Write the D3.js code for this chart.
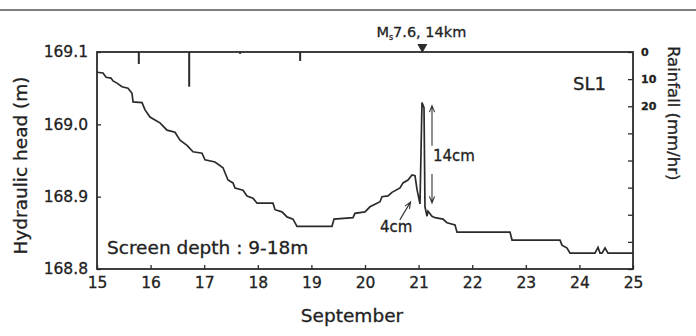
<!DOCTYPE html>
<html>
<head>
<meta charset="utf-8">
<script src="https://cdn.jsdelivr.net/npm/d3@7/dist/d3.min.js"></script>
<style>
  html, body { margin: 0; padding: 0; background: #fff; }
  svg { display: block; }
  text { font-family: "DejaVu Sans", "Liberation Sans", Arial, sans-serif; fill: #222;
         stroke: #222; stroke-width: 0.3px; }
</style>
</head>
<body>
<script>
// Hydraulic head record at well SL1, 15–25 September (day of month, metres)
const headTime = [
  15.000, 15.112, 15.168, 15.261, 15.299, 15.373, 15.466, 15.578, 15.653, 15.672,
  15.840, 15.896, 15.989, 16.082, 16.175, 16.306, 16.455, 16.549, 16.679, 16.791,
  16.959, 17.015, 17.201, 17.351, 17.388, 17.444, 17.537, 17.575, 17.724, 17.799,
  17.910, 17.985, 18.284, 18.321, 18.451, 18.545, 18.657, 18.731, 19.384, 19.422,
  19.776, 19.813, 20.000, 20.093, 20.224, 20.280, 20.317, 20.429, 20.504, 20.653,
  20.709, 20.802, 20.877, 20.933, 20.970, 21.026, 21.063, 21.101, 21.119, 21.157,
  21.175, 21.250, 21.306, 21.455, 21.530, 21.679, 21.716, 22.705, 22.743, 23.638,
  23.675, 23.769, 23.825, 24.291, 24.347, 24.384, 24.422, 24.478, 24.534, 25.000
];
const headValue = [
  169.072, 169.071, 169.065, 169.064, 169.060, 169.057, 169.052, 169.050, 169.043, 169.031,
  169.030, 169.020, 169.010, 169.006, 169.002, 168.992, 168.989, 168.978, 168.971, 168.962,
  168.960, 168.951, 168.948, 168.940, 168.933, 168.923, 168.919, 168.912, 168.909, 168.901,
  168.898, 168.891, 168.891, 168.882, 168.879, 168.872, 168.869, 168.859, 168.859, 168.869,
  168.871, 168.877, 168.879, 168.886, 168.891, 168.893, 168.900, 168.901, 168.906, 168.912,
  168.919, 168.923, 168.930, 168.929, 168.910, 168.890, 169.030, 169.023, 168.886, 168.873,
  168.880, 168.873, 168.871, 168.869, 168.864, 168.861, 168.851, 168.851, 168.840, 168.840,
  168.833, 168.829, 168.822, 168.822, 168.830, 168.822, 168.822, 168.829, 168.822, 168.822
];

// Hourly rainfall (mm/hr)
const rainTime = [15.78, 16.72, 17.67, 18.79];
const rainValue = [4.4, 12.8, 0.7, 3.3];

// Axis ticks
const dayTicks = [15, 16, 17, 18, 19, 20, 21, 22, 23, 24, 25];
const headTicks = [168.8, 168.9, 169.0, 169.1];
const rainTicks = [0, 10, 20, 30, 40, 50, 60, 70, 80];
const rainLabelled = [0, 10, 20];

// Main shock and the two annotated offsets
const quakeTime = 21.07;
const quakeLabel = ["M", "s", "7.6, 14km"];
const preDrop = { top: 168.93, bottom: 168.89, label: "4cm" };
const coJump = { top: 169.03, bottom: 168.89, label: "14cm" };

const W = 696, H = 336;
const m = { left: 97, right: 63, top: 52, bottom: 67 };

const svg = d3.select("body").append("svg")
  .attr("width", W).attr("height", H);

const x = d3.scaleLinear().domain([15, 25]).range([m.left, W - m.right]);
const y = d3.scaleLinear().domain([168.8, 169.1]).range([H - m.bottom, m.top]);
const r = d3.scaleLinear().domain([0, 80]).range([m.top, H - m.bottom]);

const ink = "#2b2b2b";

// page rule above the figure
svg.append("line")
  .attr("x1", 0).attr("x2", W).attr("y1", 10).attr("y2", 10)
  .attr("stroke", "#555").attr("stroke-width", 1.5);

// Axes (ticks pointing into the plot)
const xAxis = svg.append("g")
  .attr("transform", `translate(0,${H - m.bottom})`)
  .call(d3.axisBottom(x).tickValues(dayTicks).tickSize(-4).tickPadding(8).tickFormat(d3.format("d")));
const yAxis = svg.append("g")
  .attr("transform", `translate(${m.left},0)`)
  .call(d3.axisLeft(y).tickValues(headTicks).tickSize(-4).tickPadding(9).tickFormat(d3.format(".1f")));
const rAxis = svg.append("g")
  .attr("transform", `translate(${W - m.right},0)`)
  .call(d3.axisRight(r).tickValues(rainTicks).tickSize(-5).tickPadding(8)
    .tickFormat(d => rainLabelled.includes(d) ? d : ""));

[xAxis, yAxis, rAxis].forEach(g => {
  g.select(".domain").remove();
  g.selectAll(".tick line").attr("stroke", ink).attr("stroke-width", 1.3);
  g.selectAll(".tick text").attr("fill", "#222").attr("font-family", "DejaVu Sans");
});
xAxis.selectAll(".tick text").attr("font-size", 15.5);
yAxis.selectAll(".tick text").attr("font-size", 15.5);
rAxis.selectAll(".tick text").attr("font-size", 11).attr("font-weight", "bold");

// plot frame
svg.append("rect")
  .attr("x", x(15)).attr("y", y(169.1))
  .attr("width", x(25) - x(15)).attr("height", y(168.8) - y(169.1))
  .attr("fill", "none").attr("stroke", ink).attr("stroke-width", 1.8);

// rainfall bars hanging from the top axis
svg.append("g").selectAll("rect")
  .data(rainTime.map((t, i) => [t, rainValue[i]]))
  .join("rect")
  .attr("x", d => x(d[0]) - 1).attr("width", 2)
  .attr("y", r(0)).attr("height", d => r(d[1]) - r(0))
  .attr("fill", ink);

// hydraulic head line
const line = d3.line().x(d => x(d[0])).y(d => y(d[1]));
svg.append("path")
  .datum(headTime.map((t, i) => [t, headValue[i]]))
  .attr("d", line)
  .attr("fill", "none").attr("stroke", ink)
  .attr("stroke-width", 1.7).attr("stroke-linejoin", "miter");

// earthquake marker
const qx = x(quakeTime), qy = y(169.1);
svg.append("path")
  .attr("d", `M${qx - 5},${qy - 8}L${qx + 5},${qy - 8}L${qx},${qy + 1}Z`)
  .attr("fill", ink);
const ql = svg.append("text")
  .attr("x", qx - 1).attr("y", 37).attr("text-anchor", "middle").attr("font-size", 14.5);
ql.append("tspan").text(quakeLabel[0]);
ql.append("tspan").attr("font-size", 8).attr("dy", 3).text(quakeLabel[1]);
ql.append("tspan").attr("dy", -3).text(quakeLabel[2]);

// arrow helper: open V head at (x2,y2)
function arrow(x1, y1, x2, y2) {
  const a = Math.atan2(y2 - y1, x2 - x1), L = 7, s = 0.38;
  const p = `M${x1},${y1}L${x2},${y2}` +
    `M${x2 - L * Math.cos(a - s)},${y2 - L * Math.sin(a - s)}L${x2},${y2}` +
    `L${x2 - L * Math.cos(a + s)},${y2 - L * Math.sin(a + s)}`;
  svg.append("path").attr("d", p).attr("fill", "none")
    .attr("stroke", "#333").attr("stroke-width", 1.1);
}

// co-seismic jump annotation
const ax = x(21.25);
arrow(ax, y(coJump.top) + 43, ax, y(coJump.top) + 3);
arrow(ax, y(coJump.bottom) - 30, ax, y(coJump.bottom) - 1);
svg.append("text").attr("x", ax + 1).attr("y", 161)
  .attr("font-size", 15).text(coJump.label);

// pre-seismic drop annotation
arrow(x(20.65), y(preDrop.bottom) + 16, x(20.85), y(preDrop.bottom) - 2);
svg.append("text").attr("x", x(20.28)).attr("y", 232)
  .attr("font-size", 15).text(preDrop.label);

// labels
svg.append("text").attr("x", 573).attr("y", 90).attr("font-size", 18).text("SL1");
svg.append("text").attr("x", 107).attr("y", 254).attr("font-size", 18.5).text("Screen depth : 9-18m");
svg.append("text").attr("x", 352).attr("y", 322).attr("text-anchor", "middle")
  .attr("font-size", 18.5).text("September");
svg.append("text")
  .attr("transform", `translate(27,${(m.top + H - m.bottom) / 2 + 5}) rotate(-90)`)
  .attr("text-anchor", "middle").attr("font-size", 18.5).text("Hydraulic head (m)");
svg.append("text")
  .attr("transform", `translate(668,46) rotate(90)`)
  .attr("font-size", 16.5).text("Rainfall (mm/hr)");
</script>
</body>
</html>
